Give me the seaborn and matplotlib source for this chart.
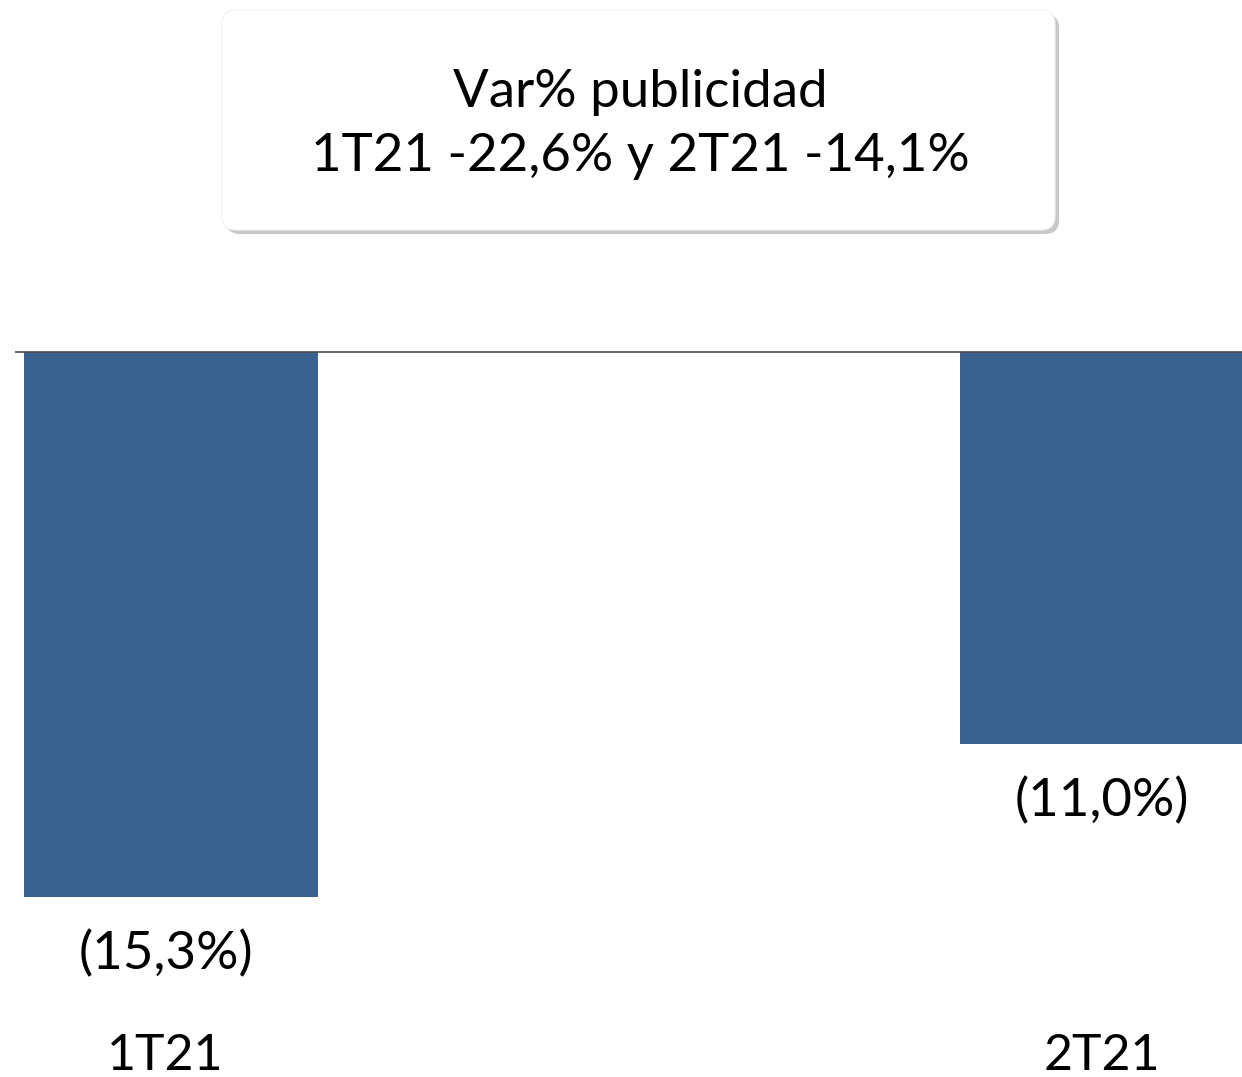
import matplotlib
matplotlib.use("Agg")
import matplotlib.pyplot as plt
from matplotlib.patches import FancyBboxPatch
import seaborn as sns

categories = ["1T21", "2T21"]
values = [-15.3, -11.0]
title_lines = ["Var% publicidad", "1T21 -22,6% y 2T21 -14,1%"]

BAR_COLOR = "#3A6090"
W, H = 1242, 1077

sns.set_theme(style="white")
plt.rcParams["font.family"] = ["Lato", "DejaVu Sans"]

fig = plt.figure(figsize=(W / 100, H / 100), dpi=100)
fig.patch.set_facecolor("white")
ax = fig.add_axes([15 / W, 0, 1 - 15 / W, 1])

sns.barplot(x=categories, y=values, color=BAR_COLOR, width=0.314,
            linewidth=0, saturation=1, ax=ax)

ax.set_xlim(-0.1667, 1.144)
ax.set_ylim(-20.37, 9.89)
ax.axhline(0, color="#4a4a4a", linewidth=1.2, zorder=5)

for s in ax.spines.values():
    s.set_visible(False)
ax.set_xticks([])
ax.set_yticks([])
ax.set_xlabel("")
ax.set_ylabel("")
ax.set_facecolor("none")

for i, v in enumerate(values):
    lab = "({:.1f}%)".format(abs(v)).replace(".", ",")
    ax.text(i - 0.006, v - 1.62, lab, ha="center", va="center",
            fontsize=38, color="black", fontweight="normal")
    ax.text(i - 0.006, -19.78, categories[i], ha="center", va="center",
            fontsize=36, color="black", fontweight="normal")

# Title box with shadow
bx0, by0, bx1, by1 = 222, 10, 1055, 230
shadow = FancyBboxPatch((bx0 + 4, H - by1 - 4), bx1 - bx0, by1 - by0,
                        boxstyle="round,pad=0,rounding_size=14",
                        transform=None, facecolor="#c8c8c8",
                        edgecolor="none", zorder=1)
box = FancyBboxPatch((bx0, H - by1), bx1 - bx0, by1 - by0,
                     boxstyle="round,pad=0,rounding_size=14",
                     transform=None, facecolor="white",
                     edgecolor="#f2f2f2", linewidth=0.8, zorder=2)
fig.patches.extend([shadow, box])
fig.text(640 / W, 1 - 92 / H, title_lines[0], ha="center", va="center",
         fontsize=38, color="black", fontweight="normal", zorder=3)
fig.text(640 / W, 1 - 157 / H, title_lines[1], ha="center", va="center",
         fontsize=38, color="black", fontweight="normal", zorder=3)

fig.savefig("out.png", dpi=100)
